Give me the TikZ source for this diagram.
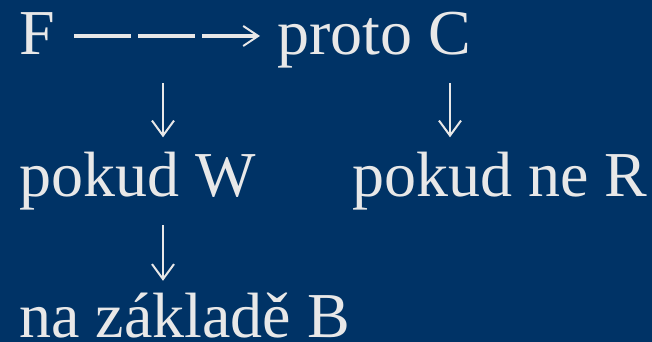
\documentclass[tikz,border=0pt]{standalone}
\usepackage{fontspec}
\setmainfont{Liberation Serif}
\usepackage{xcolor}
\usetikzlibrary{arrows.meta}

\definecolor{bgblue}{RGB}{0,51,102}
\definecolor{txtgray}{RGB}{232,232,232}

\begin{document}
\begin{tikzpicture}[x=1pt, y=1pt,
    every node/.style={text=txtgray, font=\fontsize{64}{76}\selectfont, inner sep=0pt,
        anchor=base west, text height=48pt, text depth=10pt},
    down/.style={draw=txtgray, line width=2pt, -{Straight Barb[length=15pt,width=22pt]},
        shorten <=18pt, shorten >=11.5pt},
    link/.style={draw=txtgray, line width=3.2pt, dash pattern=on 57pt off 7pt,
        -{Straight Barb[length=15pt,width=20pt,line width=2pt]},
        shorten <=19.4pt, shorten >=17pt}]
    % Fondo
    \path[fill=bgblue, use as bounding box] (0,0) rectangle (652,342);
    % Textos
    \node (F) at (19,287) {F};
    \node (proto) at (277,287) {proto C};
    \node (pokudW) at (19,145) {pokud W};
    \node (pokudR) at (352,145) {pokud ne R};
    \node (naB) at (19,4) {na základě B};
    % Columnas de las flechas
    \coordinate (colA) at (163,0);
    \coordinate (colB) at (450,0);
    % Flechas
    \draw[link] (F.east) -- (proto.west);
    \draw[down] (F.south -| colA) -- (pokudW.north -| colA);
    \draw[down] (proto.south -| colB) -- (pokudR.north -| colB);
    \draw[down, shorten >=9pt] (pokudW.south -| colA) -- (naB.north -| colA);
\end{tikzpicture}
\end{document}
